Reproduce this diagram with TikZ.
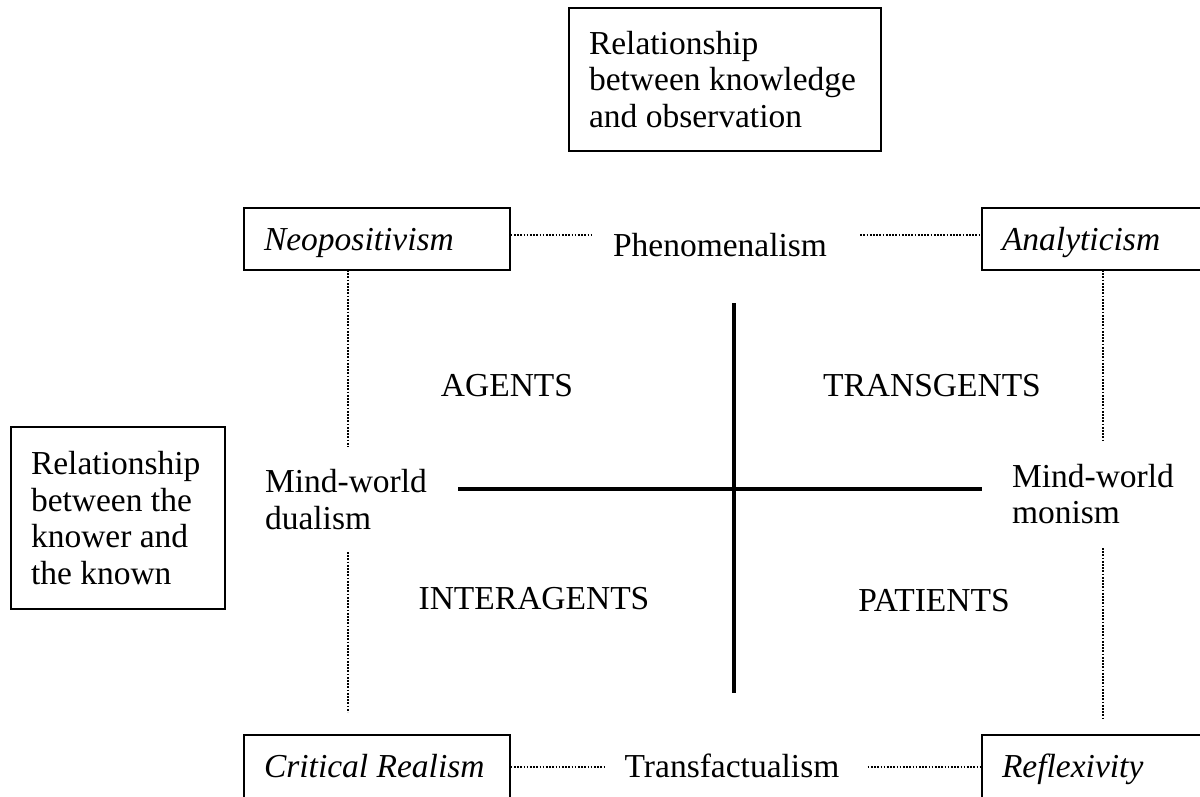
\documentclass[tikz,border=0pt]{standalone}
\usepackage{fontspec}
\setmainfont{Liberation Serif}
\begin{document}
\begin{tikzpicture}[x=1pt,y=-1pt,
  every node/.style={font=\fontsize{33.5}{36.8}\selectfont, inner sep=0pt},
  box/.style={draw, line width=1.4pt},
  cornerbox/.style={box, font=\fontsize{33.5}{36.8}\selectfont\itshape, anchor=base,
     inner xsep=20pt, align=flush left, text height=42pt},
  dots/.style={line width=2.2pt, dash pattern=on 1.7pt off 1.5pt},
  thick axis/.style={line width=4pt}]
\useasboundingbox (0,0) rectangle (1200,796);
% boxes
\node[box, minimum height=143pt, inner xsep=20pt, text width=272pt, align=flush left] (top) at (725,79.5)
  {Relationship\\between knowledge\\and observation};
\node[box, minimum height=182pt, inner xsep=20pt, text width=174pt, align=flush left] (left) at (118,518)
  {Relationship\\between the\\knower and\\the known};
\node[cornerbox, text width=226pt, text depth=20pt] (neo) at (377,250) {Neopositivism};
\node[cornerbox, text width=180pt, text depth=20pt] (ana) at (1092,250) {Analyticism};
\node[cornerbox, text width=226pt, text depth=30pt] (cr) at (377,777) {Critical Realism};
\node[cornerbox, text width=180pt, text depth=30pt] (ref) at (1092,777) {Reflexivity};
% middle labels
\node[anchor=base, minimum width=268pt, text height=43pt, text depth=1pt] (phen) at (720,256) {Phenomenalism};
\node[anchor=base, minimum width=263pt, text height=30pt, text depth=10pt] (trans) at (732,777) {Transfactualism};
\node[align=flush left, minimum height=105pt] (dual) at (346,499.5) {Mind-world\\dualism};
\node[align=flush left, minimum height=108pt] (mon) at (1093,494) {Mind-world\\monism};
\node (ag) at (507,386) {AGENTS};
\node (tg) at (932,386) {TRANSGENTS};
\node (ia) at (534,599) {INTERAGENTS};
\node (pa) at (934,601) {PATIENTS};
% coordinates
\coordinate (l1) at (348,270);
\coordinate (l2) at (348,447);
\coordinate (l3) at (348,552);
\coordinate (l4) at (348,712);
\coordinate (r1) at (1103,270);
\coordinate (r2) at (1103,440);
\coordinate (r3) at (1103,548);
\coordinate (r4) at (1103,718);
\coordinate (hL) at (458,489);
\coordinate (hR) at (982,489);
\coordinate (vT) at (734,303);
\coordinate (vB) at (734,693);
% dotted connectors
\draw[dots] (neo.east |- phen.west) -- ([xshift=6pt]phen.west);
\draw[dots] ([xshift=6pt]phen.east) -- (ana.west |- phen.east);
\draw[dots] (cr.east |- trans.west) -- ([xshift=4pt]trans.west);
\draw[dots] ([xshift=4pt]trans.east) -- (ref.west |- trans.east);
\draw[dots] (l1) -- (l2);
\draw[dots] (l3) -- (l4);
\draw[dots] (r1) -- (r2);
\draw[dots] (r3) -- (r4);
% axes
\draw[thick axis] (hL) -- (hR);
\draw[thick axis] (vT) -- (vB);
\end{tikzpicture}
\end{document}
